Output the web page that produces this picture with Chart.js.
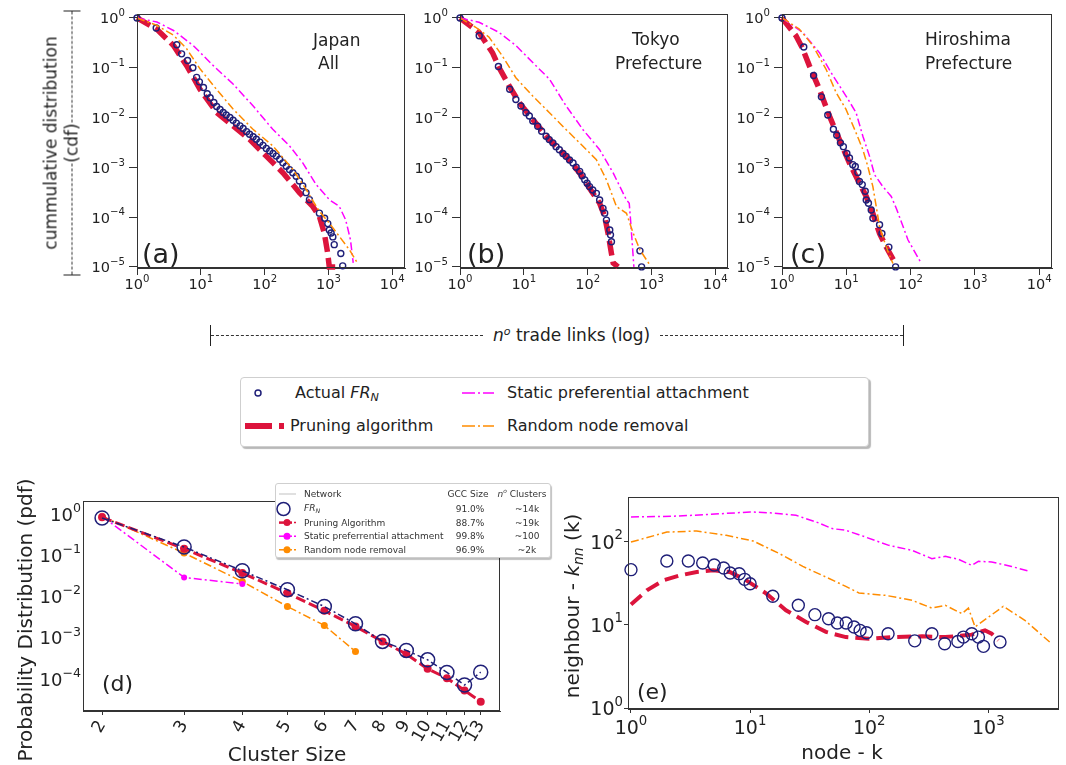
<!DOCTYPE html>
<html lang="en">
<head>
<meta charset="UTF-8">
<title>Trade network degree distributions</title>
<script src="https://cdn.jsdelivr.net/npm/chart.js"></script>
<style>
  body { margin: 0; background: #fff; font-family: "DejaVu Sans", sans-serif; color: #222; }
  #page { position: relative; width: 1066px; height: 765px; overflow: hidden; background: #fff; }
  .cv { position: absolute; }
  .t { position: absolute; white-space: nowrap; line-height: 1; transform: translateY(-50%); }
  .rot { position: absolute; transform: rotate(-90deg); text-align: center; white-space: nowrap; }
  .dash { flex: 1; border-top: 1px dashed #333; height: 0; }
  .bar { width: 1px; background: #222; }
  .legend { position: absolute; background: #fff; border: 1px solid #cfcfcf; border-radius: 4px;
            box-shadow: 2px 2px 1px rgba(0,0,0,0.28); }
  sub { font-size: 70%; vertical-align: -0.25em; }
  sup { font-size: 65%; vertical-align: 0.55em; }
</style>
</head>
<body>
<div id="page">
  <canvas class="cv" id="cA" width="340" height="300" style="left:80px;top:0"></canvas>
  <canvas class="cv" id="cB" width="340" height="300" style="left:403px;top:0"></canvas>
  <canvas class="cv" id="cC" width="341" height="300" style="left:725px;top:0"></canvas>
  <canvas class="cv" id="cD" width="520" height="295" style="left:0;top:470px"></canvas>
  <canvas class="cv" id="cE" width="521" height="295" style="left:545px;top:470px"></canvas>

  <!-- top row annotations -->
  <div class="t" style="left:313px;top:40px;font-size:17px">Japan</div>
  <div class="t" style="left:318px;top:63px;font-size:17px">All</div>
  <div class="t" style="left:632px;top:39px;font-size:17px">Tokyo</div>
  <div class="t" style="left:615px;top:63px;font-size:17px">Prefecture</div>
  <div class="t" style="left:925px;top:39px;font-size:17px">Hiroshima</div>
  <div class="t" style="left:925px;top:63px;font-size:17px">Prefecture</div>
  <div class="t" style="left:142px;top:253px;font-size:27px">(a)</div>
  <div class="t" style="left:467px;top:253px;font-size:27px">(b)</div>
  <div class="t" style="left:790px;top:253px;font-size:27px">(c)</div>
  <div class="t" style="left:102px;top:684px;font-size:22px">(d)</div>
  <div class="t" style="left:637px;top:692px;font-size:22px">(e)</div>

  <!-- shared axis titles of the top row -->
  <div class="rot" style="left:-72px;top:122px;width:265px;height:42px;">
    <div style="height:22px;line-height:22px;font-size:17px">cummulative distribution</div>
    <div style="display:flex;align-items:center;height:20px;font-size:17px">
      <div class="bar" style="height:17px"></div><div class="dash"></div>
      <span style="padding:0 1px">(cdf)</span>
      <div class="dash"></div><div class="bar" style="height:17px"></div>
    </div>
  </div>
  <div style="position:absolute;left:210px;top:324px;width:694px;height:22px;display:flex;align-items:center;font-size:17px">
    <div class="bar" style="height:21px"></div>
    <div class="dash" style="flex:0 0 272px"></div>
    <span style="padding:0 10px"><i>n</i><sup><i>o</i></sup> trade links (log)</span>
    <div class="dash"></div>
    <div class="bar" style="height:21px"></div>
  </div>

  <!-- main legend -->
  <div class="legend" style="left:240px;top:377px;width:627px;height:68px"></div>
  <svg style="position:absolute;left:240px;top:377px" width="300" height="70">
    <circle cx="18" cy="16" r="3" fill="none" stroke="#1f1f78" stroke-width="1.5"/>
    <line x1="5" y1="49" x2="44" y2="49" stroke="#dc143c" stroke-width="6" stroke-dasharray="27,7"/>
    <line x1="222" y1="16" x2="254" y2="16" stroke="#ff00ff" stroke-width="1.6" stroke-dasharray="13,3,2,3"/>
    <line x1="222" y1="49" x2="254" y2="49" stroke="#ff8c00" stroke-width="1.6" stroke-dasharray="13,3,2,3"/>
  </svg>
  <div class="t" style="left:295px;top:394px;font-size:16px">Actual <i>FR</i><sub><i>N</i></sub></div>
  <div class="t" style="left:290px;top:426px;font-size:16px">Pruning algorithm</div>
  <div class="t" style="left:507px;top:393px;font-size:16px">Static preferential attachment</div>
  <div class="t" style="left:507px;top:426px;font-size:16px">Random node removal</div>

  <!-- panel (d) table legend -->
  <div class="legend" id="tbl" style="left:275px;top:483px;width:274px;height:73px;border-radius:3px;box-shadow:1px 2px 1px rgba(0,0,0,0.25)"></div>

  <!-- panel axis titles -->
  <div class="rot" style="left:-120px;top:608px;width:290px;height:24px;font-size:20px;line-height:24px">Probability Distribution (pdf)</div>
  <div class="t" style="left:287px;top:754px;font-size:20px;transform:translate(-50%,-50%)">Cluster Size</div>
  <div class="rot" style="left:472px;top:594px;width:200px;height:24px;font-size:20px;line-height:24px">neighbour - <i>k</i><sub><i>nn</i></sub> (k)</div>
  <div class="t" style="left:842px;top:752px;font-size:20px;transform:translate(-50%,-50%)">node - k</div>
</div>

<script>
// ---------- top row: cumulative degree distribution, points are [k, cdf] ----------
const cdfTicksX = [1, 10, 100, 1000, 10000];
const cdfTicksY = [1, 0.1, 0.01, 0.001, 0.0001, 0.00001];

const japanActual = [[1, 1], [2, 0.63], [4.2, 0.29], [5, 0.19], [6.2, 0.14], [7.5, 0.10], [8.6, 0.064], [9.5, 0.052],
  [11, 0.040], [12.6, 0.030], [14, 0.025], [16, 0.020], [17.7, 0.0167], [20, 0.0145], [22.4, 0.0126], [25, 0.0112],
  [28.5, 0.0100], [32, 0.0088], [36, 0.0077], [41, 0.0068], [46, 0.0060], [52, 0.0052], [58, 0.0046], [66, 0.0041],
  [74, 0.00365], [84, 0.0032], [94, 0.00276], [106, 0.0024], [120, 0.00212], [135, 0.0019], [152, 0.00168],
  [172, 0.00145], [193, 0.00123], [218, 0.00105], [245, 0.0009], [276, 0.00078], [312, 0.00066], [350, 0.00053],
  [395, 0.00042], [445, 0.00031], [503, 0.000224], [720, 0.00012], [870, 0.000095], [975, 0.000074],
  [1030, 0.000055], [1100, 0.000048], [1170, 0.00004], [1230, 0.000028], [1560, 0.0000186], [1670, 0.0000105]];
const japanPruning = [[1, 1], [2.05, 0.59], [3.73, 0.28], [6, 0.11], [9.7, 0.037], [17.7, 0.0126], [32, 0.0068],
  [58, 0.00365], [106, 0.00168], [193, 0.00078], [351, 0.00031], [566, 0.000164], [720, 0.000103], [861, 0.0000475],
  [970, 0.000019], [1030, 0.00001], [1475, 0.00001]];
const japanStatic = [[1, 1], [2.05, 0.83], [3.73, 0.56], [7.6, 0.28], [15.7, 0.11], [32, 0.047], [65.6, 0.0172],
  [134, 0.0058], [245, 0.0027], [395, 0.00123], [640, 0.00045], [1030, 0.000224], [1475, 0.000164], [1860, 0.000088],
  [2210, 0.000035], [2440, 0.000012]];
const japanRandom = [[1, 1], [2.05, 0.71], [3.73, 0.45], [6, 0.24], [9.7, 0.095], [15.7, 0.044], [32, 0.0148],
  [65.6, 0.0058], [134, 0.0027], [277, 0.00091], [445, 0.00036], [720, 0.00013], [1030, 0.000076], [1475, 0.000041],
  [2130, 0.000022], [2840, 0.000012]];

const tokyoActual = [[1, 1], [2, 0.44], [4, 0.106], [6, 0.037], [7.5, 0.023], [9, 0.017], [10.8, 0.0125], [12.2, 0.0107],
  [13.8, 0.0085], [16.5, 0.0067], [19, 0.0053], [22.3, 0.0042], [25, 0.0036], [28.5, 0.0031], [32, 0.0026],
  [36, 0.00226], [41, 0.0019], [46, 0.00166], [52, 0.0014], [59, 0.00122], [66, 0.001], [75, 0.00083], [82, 0.00068],
  [90, 0.00056], [98, 0.00048], [107, 0.00041], [120, 0.00035], [137, 0.0003], [154, 0.00022], [174, 0.00015],
  [185, 0.00012], [197, 0.000087], [222, 0.000055], [228, 0.000044], [236, 0.000032], [659, 0.000021], [700, 0.00001]];
const tokyoPruning = [[1, 1], [1.99, 0.51], [3.23, 0.20], [4.11, 0.10], [5.9, 0.043], [8.5, 0.0198], [13.8, 0.0091],
  [25.2, 0.0036], [46.1, 0.00166], [74.8, 0.00077], [107, 0.00038], [154, 0.00019], [185, 0.000103], [209, 0.000047],
  [236, 0.0000185], [251, 0.000012], [300, 0.00001]];
const tokyoStatic = [[1, 1], [1.99, 0.82], [4.11, 0.51], [7.5, 0.28], [13.8, 0.127], [25.2, 0.059], [46.1, 0.017],
  [84.5, 0.0057], [154, 0.00226], [251, 0.00077], [406, 0.00022], [448, 0.00019], [470, 0.000087], [499, 0.00003],
  [530, 0.00001]];
const tokyoRandom = [[1, 1], [1.76, 0.65], [2.86, 0.41], [4.64, 0.17], [7.5, 0.063], [13.8, 0.027], [25.2, 0.0125],
  [46.1, 0.0057], [84.5, 0.00265], [137, 0.00142], [197, 0.00056], [283, 0.000163], [406, 0.000119], [518, 0.000047],
  [659, 0.000022], [947, 0.0000108]];

const hiroshimaActual = [[1, 1], [2.18, 0.26], [3.1, 0.07], [4.1, 0.026], [5.15, 0.0112], [6.3, 0.0058], [7.1, 0.0044],
  [8.1, 0.0031], [9, 0.0026], [10.2, 0.0019], [11.2, 0.00154], [12.6, 0.00113], [13.8, 0.00104], [15.1, 0.00079],
  [16, 0.00052], [17.7, 0.00045], [19.7, 0.00033], [20.4, 0.00022], [22.1, 0.00019], [24.4, 0.000139],
  [25.9, 0.000095], [32.9, 0.00007], [35.8, 0.000047], [45.9, 0.000025], [58.4, 0.00001]];
const hiroshimaPruning = [[1, 1], [1.65, 0.44], [2.1, 0.24], [2.67, 0.109], [3.82, 0.037], [5.47, 0.0107], [7.8, 0.0036],
  [11.2, 0.00122], [16, 0.00048], [20.4, 0.00026], [25.9, 0.000119], [32.9, 0.000047], [41.8, 0.000025],
  [56.3, 0.0000126]];
const hiroshimaStatic = [[1, 1], [2.1, 0.51], [3.82, 0.2], [6.2, 0.069], [9.9, 0.027], [14.2, 0.0125], [18.1, 0.0042],
  [23, 0.00166], [27.5, 0.00071], [37, 0.00041], [50, 0.00026], [59.8, 0.00015], [71.6, 0.000081], [90.8, 0.000035],
  [147, 0.0000117]];
const hiroshimaRandom = [[1, 1], [1.86, 0.6], [3, 0.28], [4.85, 0.093], [6.95, 0.0316], [9.9, 0.0146], [14.2, 0.0049],
  [18.1, 0.00226], [21.6, 0.00104], [25.9, 0.00041], [29.2, 0.000163], [32.9, 0.000064], [41.8, 0.000025],
  [53, 0.0000117]];

// ---------- panel (d): cluster size distribution ----------
const clusterSizes = [2, 3, 4, 5, 6, 7, 8, 9, 10, 11, 12, 13];
const clusterActual = [0.80, 0.158, 0.042, 0.0145, 0.0057, 0.00217, 0.00081, 0.00049, 0.00029, 0.000143, 0.000071, 0.000145];
const clusterPruning = [0.83, 0.144, 0.037, 0.012, 0.0045, 0.00187, 0.00081, 0.0004, 0.000175, 0.000104, 0.000052, 0.000028];
const clusterStatic = [0.88, 0.029, 0.02];
const clusterRandom = [0.88, 0.113, 0.023, 0.0057, 0.00198, 0.00046];
const clusterTicksY = [1, 0.1, 0.01, 0.001, 0.0001];

const tableNames = ['FR_N', 'Pruning Algorithm', 'Static preferrential attachment', 'Random node removal'];
const tableGcc = ['91.0%', '88.7%', '99.8%', '96.9%'];
const tableClusters = ['~14k', '~19k', '~100', '~2k'];

// ---------- panel (e): average neighbour degree, points are [k, knn] ----------
const knnActual = [[1, 45.7], [2, 58], [3.03, 58], [4, 55], [5, 52], [6, 47.9], [6.8, 41.7], [8.1, 40.9], [9, 35],
  [10, 31], [15.5, 21.9], [25.4, 17.1], [35, 13.2], [45.6, 11.8], [54, 10.5], [64, 10.5], [74.6, 9.4], [83.8, 8.55],
  [95, 8.0], [144, 7.8], [241, 6.4], [336, 7.8], [430, 5.9], [555, 6.3], [618, 7.1], [726, 7.8], [826, 7.1],
  [910, 5.5], [1253, 6.2]];
const knnPruning = [[1, 17.5], [1.36, 25.8], [1.87, 34], [2.58, 39], [3.56, 42.9], [4.9, 44.9], [6.75, 42.9], [9.3, 34],
  [13.7, 23.6], [20, 14.9], [29.5, 10.8], [43.3, 8.2], [63.6, 7.1], [99.6, 6.8], [156, 7.1], [278, 7.25], [435, 7.1],
  [726, 7.6], [938, 8.55], [1067, 7.8], [1213, 6.5]];
const knnStatic = [[1, 196], [2.27, 200], [4.3, 209], [10, 225], [15.5, 219], [24.3, 205], [35.7, 171], [49, 142],
  [63.6, 135.5], [82, 120], [146, 89.5], [229, 78], [336, 62], [435, 66], [562, 60.8], [726, 51.5], [826, 57.5],
  [1067, 56.5], [1567, 50], [2160, 44]];
const knnRandom = [[1, 98], [2, 129], [3.56, 133], [6.3, 118], [10.6, 101], [17.7, 71], [27.7, 50], [43.3, 37.3],
  [63.6, 28.8], [82, 24], [137, 22.5], [229, 19.6], [336, 15.8], [435, 17.1], [600, 13.6], [681, 15.8], [774, 9.4],
  [1334, 16.6], [2025, 11.3], [3274, 6.2]];
const knnTicksX = [1, 10, 100, 1000];
const knnTicksY = [1, 10, 100];

// ---------- styling ----------
const NAVY = '#1f1f78', CRIMSON = '#dc143c', MAGENTA = '#ff00ff', ORANGE = '#ff8c00';
const DASHDOT = [8, 3, 2, 3];
const FONT = '"DejaVu Sans"';

const pts = arr => arr.map(([x, y]) => ({ x, y }));
const zip = (xs, ys) => ys.map((y, i) => ({ x: xs[i], y }));

function circles(data, r, order) {
  return { data, showLine: false, pointRadius: r, pointBorderColor: NAVY, pointBackgroundColor: 'rgba(0,0,0,0)',
           pointBorderWidth: 1.4, order, clip: 8 };
}
function curve(data, color, width, dash, order) {
  return { data, borderColor: color, borderWidth: width, borderDash: dash, pointRadius: 0, tension: 0,
           fill: false, order, clip: 3 };
}

const framePlugin = {
  id: 'frame',
  afterDraw(chart) {
    const a = chart.chartArea, ctx = chart.ctx;
    ctx.save();
    ctx.strokeStyle = '#333';
    ctx.lineWidth = 1;
    ctx.strokeRect(Math.round(a.left) + 0.5, Math.round(a.top) + 0.5,
                   Math.round(a.right - a.left) - 1, Math.round(a.bottom - a.top) - 1);
    ctx.restore();
  }
};

// draws "10" with a raised exponent, like the mathtext labels of the original
function powTicks(cfg) {
  return {
    id: 'powTicks',
    afterDraw(chart) {
      const ctx = chart.ctx, a = chart.chartArea;
      ctx.save();
      ctx.fillStyle = '#222';
      ctx.textBaseline = 'middle';
      ctx.textAlign = 'left';
      ['x', 'y'].forEach(axis => {
        const o = cfg[axis];
        if (!o) return;
        const sc = chart.scales[axis];
        sc.ticks.forEach(t => {
          const exp = String(Math.round(Math.log10(t.value))).replace('-', '\u2212');
          ctx.font = o.size + 'px ' + FONT;
          const wb = ctx.measureText('10').width;
          ctx.font = (o.size * 0.7) + 'px ' + FONT;
          const we = ctx.measureText(exp).width;
          const p = sc.getPixelForValue(t.value);
          let x0, cy;
          if (axis === 'y') { x0 = a.left - o.gap - wb - we; cy = p + o.size * 0.12; }
          else { x0 = p - (wb + we) / 2; cy = a.bottom + o.gap + o.size * 0.85; }
          ctx.font = o.size + 'px ' + FONT;
          ctx.fillText('10', x0, cy);
          ctx.font = (o.size * 0.7) + 'px ' + FONT;
          ctx.fillText(exp, x0 + wb, cy - o.size * 0.42);
        });
      });
      ctx.restore();
    }
  };
}

function logAxis(range, tickVals, tickLen, fitFn, tickOpts) {
  return {
    type: 'logarithmic', bounds: 'data', min: range[0], max: range[1],
    afterBuildTicks: s => { s.ticks = tickVals.map(v => ({ value: v })); },
    afterFit: fitFn,
    ticks: Object.assign({ display: false, autoSkip: false }, tickOpts || {}),
    grid: { drawOnChartArea: false, drawTicks: tickLen > 0, tickLength: tickLen, color: '#333' },
    border: { color: '#333' }
  };
}

function panel(id, datasets, p) {
  return new Chart(document.getElementById(id), {
    type: 'line',
    data: { datasets },
    options: {
      responsive: false, animation: false,
      layout: { padding: { top: p.padTop, right: p.padRight, left: 0, bottom: 0 } },
      plugins: { legend: { display: false }, tooltip: { enabled: false } },
      scales: {
        x: logAxis(p.xRange, p.xTicks, p.xTickLen, s => { s.height = p.xH; }, p.xTickOpts),
        y: logAxis(p.yRange, p.yTicks, p.yTickLen, s => { s.width = p.yW; })
      }
    },
    plugins: [framePlugin, powTicks(p.labels)]
  });
}

function cdfPanel(id, actual, pruning, stat, random, padRight) {
  panel(id, [
    circles(pts(actual), 3, 3),
    curve(pts(pruning), CRIMSON, 5.5, [15, 6], 4),
    curve(pts(stat), MAGENTA, 1.5, DASHDOT, 2),
    curve(pts(random), ORANGE, 1.5, DASHDOT, 1)
  ], {
    padTop: 14, padRight, xH: 32, yW: 57,
    xRange: [1, 15800], yRange: [0.0000095, 1.2], xTicks: cdfTicksX, yTicks: cdfTicksY,
    xTickLen: 7, yTickLen: 8,
    labels: { x: { size: 14.5, gap: 5 }, y: { size: 14.5, gap: 12 } }
  });
}

cdfPanel('cA', japanActual, japanPruning, japanStatic, japanRandom, 15);
cdfPanel('cB', tokyoActual, tokyoPruning, tokyoStatic, tokyoRandom, 15);
cdfPanel('cC', hiroshimaActual, hiroshimaPruning, hiroshimaStatic, hiroshimaRandom, 14);

panel('cD', [
  Object.assign(curve(zip(clusterSizes, clusterActual), NAVY, 1.5, [7, 3, 2, 3], 1),
    { pointRadius: 7, pointBorderColor: NAVY, pointBackgroundColor: 'rgba(0,0,0,0)', pointBorderWidth: 1.5, clip: 10 }),
  Object.assign(curve(zip(clusterSizes, clusterPruning), CRIMSON, 3, [10, 4], 2),
    { pointRadius: 4, pointBackgroundColor: CRIMSON, pointBorderWidth: 0, clip: 6 }),
  Object.assign(curve(zip(clusterSizes, clusterStatic), MAGENTA, 1.5, DASHDOT, 3),
    { pointRadius: 3, pointBackgroundColor: MAGENTA, pointBorderWidth: 0 }),
  Object.assign(curve(zip(clusterSizes, clusterRandom), ORANGE, 1.5, DASHDOT, 4),
    { pointRadius: 3.5, pointBackgroundColor: ORANGE, pointBorderWidth: 0 })
], {
  padTop: 31, padRight: 20, xH: 54, yW: 83,
  xRange: [1.82, 14.3], yRange: [0.0000166, 2.07], xTicks: clusterSizes, yTicks: clusterTicksY,
  xTickLen: 4, yTickLen: 0,
  xTickOpts: { display: true, callback: v => String(v), font: { family: 'DejaVu Sans', size: 17 }, color: '#222',
               padding: 2, minRotation: 60, maxRotation: 60 },
  labels: { y: { size: 18, gap: 2 } }
});

panel('cE', [
  circles(pts(knnActual), 6, 1),
  curve(pts(knnPruning), CRIMSON, 4, [14, 7], 2),
  curve(pts(knnStatic), MAGENTA, 1.5, DASHDOT, 3),
  curve(pts(knnRandom), ORANGE, 1.5, DASHDOT, 4)
], {
  padTop: 27, padRight: 5, xH: 56, yW: 83,
  xRange: [0.944, 3890], yRange: [0.975, 340], xTicks: knnTicksX, yTicks: knnTicksY,
  xTickLen: 4, yTickLen: 4,
  labels: { x: { size: 19, gap: 4 }, y: { size: 19, gap: 5 } }
});

// ---------- panel (d) table legend ----------
(function buildTable() {
  const box = document.getElementById('tbl');
  const colors = [NAVY, CRIMSON, MAGENTA, ORANGE];
  const add = (html, x, y, center) => {
    const d = document.createElement('div');
    d.className = 't';
    d.style.cssText = 'left:' + x + 'px;top:' + y + 'px;font-size:9px;color:#333;' +
      (center ? 'transform:translate(-50%,-50%);' : '');
    d.innerHTML = html;
    box.appendChild(d);
  };
  add('Network', 28, 10);
  add('GCC Size', 192, 10, true);
  add('<i>n</i><sup><i>o</i></sup> Clusters', 246, 10, true);
  let svg = '<svg width="26" height="74" style="position:absolute;left:0;top:0">' +
    '<line x1="3" y1="10" x2="20" y2="10" stroke="#ccc" stroke-width="1.2"/>';
  tableNames.forEach((name, i) => {
    const y = 25 + i * 13.6;
    const label = name === 'FR_N' ? '<i>FR</i><sub><i>N</i></sub>' : name;
    add(label, 28, y);
    add(tableGcc[i], 194, y, true);
    add(tableClusters[i], 251, y, true);
    if (i === 0) {
      svg += '<circle cx="7.5" cy="' + y + '" r="6.5" fill="none" stroke="' + NAVY + '" stroke-width="1.5"/>';
    } else {
      svg += '<line x1="3" y1="' + y + '" x2="16" y2="' + y + '" stroke="' + colors[i] + '" stroke-width="' + (i === 1 ? 2.5 : 1.5) + '"/>' +
             '<line x1="18" y1="' + y + '" x2="20" y2="' + y + '" stroke="' + colors[i] + '" stroke-width="1.5"/>' +
             '<circle cx="11" cy="' + y + '" r="3.5" fill="' + colors[i] + '"/>';
    }
  });
  box.insertAdjacentHTML('beforeend', svg + '</svg>');
})();
</script>
</body>
</html>
